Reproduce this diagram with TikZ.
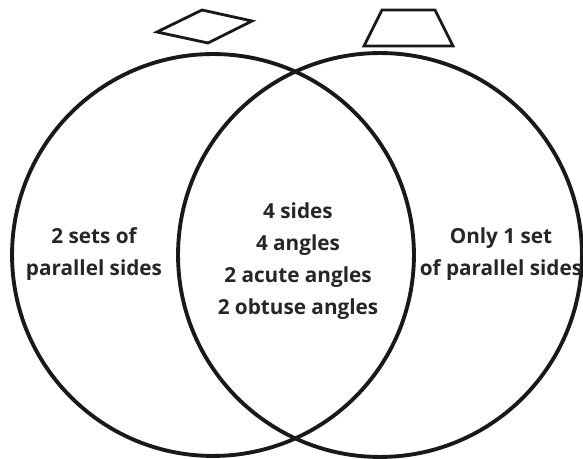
\documentclass[tikz,border=0pt]{standalone}
\usepackage{fontspec}
\setmainfont{Open Sans}
\usetikzlibrary{positioning}

\tikzset{
  ring/.style={line width=2.2pt, black!90},
  figline/.style={line width=1.6pt, black!90, line join=miter},
  setlabel/.style={align=center, font=\fontsize{11.8}{18.2}\selectfont\bfseries, text=black!85, inner sep=0pt}
}

\begin{document}
\begin{tikzpicture}[x=0.02cm,y=-0.02cm]
  \useasboundingbox (0,0) rectangle (583,459);
  % Circles
  \coordinate (lc) at (213,255);
  \coordinate (rc) at (380,255);
  \draw[ring] (lc) circle[radius=4.02cm];
  \draw[ring] (rc) circle[radius=4.04cm];
  % Rhombus above the left circle
  \draw[figline] (157,32) -- (202,10) -- (252,21) -- (208,43) -- cycle;
  % Trapezoid above the right circle
  \draw[figline] (382,10) -- (435,10) -- (453,46) -- (364,46) -- cycle;
  % Labels
  \node[setlabel] (left) at (94,254) {2 sets of\\parallel sides};
  \node[setlabel] (both) at (298,261) {4 sides\\4 angles\\2 acute angles\\2 obtuse angles};
  \node[setlabel] (right) at (501,254) {Only 1 set\\of parallel sides};
\end{tikzpicture}
\end{document}
